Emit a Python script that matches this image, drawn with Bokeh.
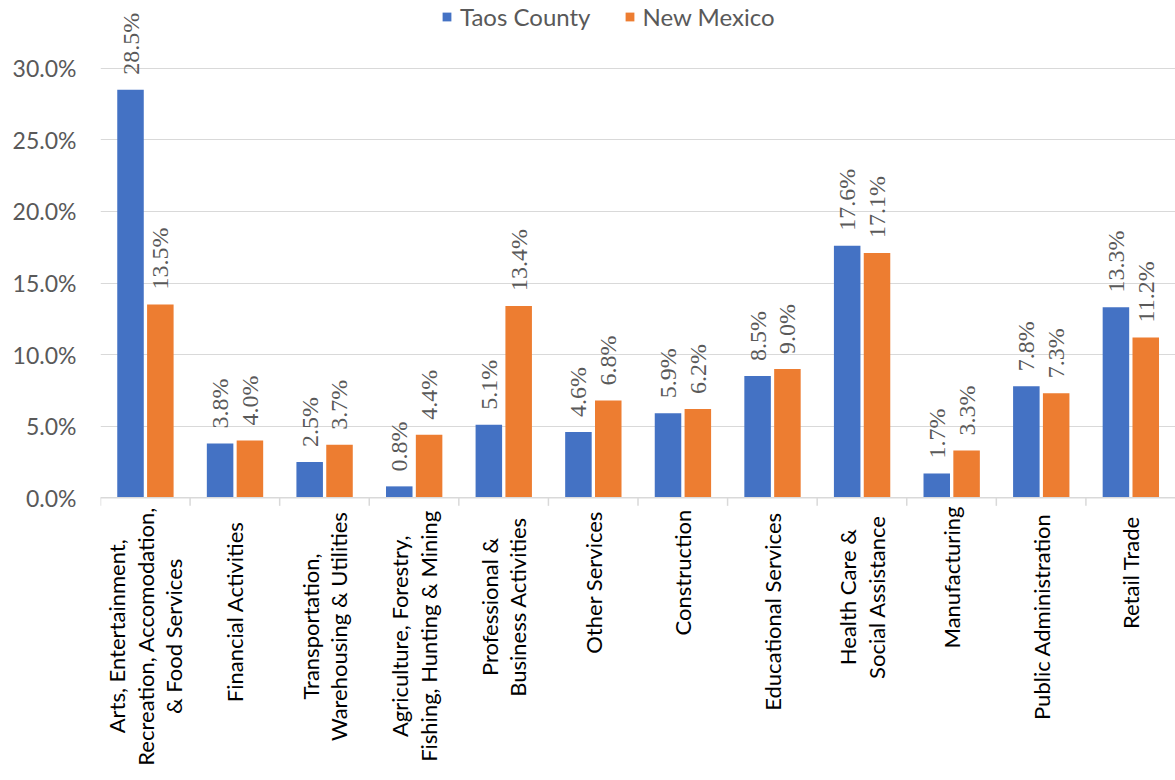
from math import pi
from bokeh.plotting import figure
from bokeh.models import (ColumnDataSource, FactorRange, Range1d, FixedTicker,
                          PrintfTickFormatter, LabelSet, Legend, LegendItem, Span)
from bokeh.core.properties import value
from bokeh.transform import dodge
from bokeh.embed import file_html
from bokeh.resources import INLINE

categories = [
    "Arts, Entertainment,\nRecreation, Accomodation,\n& Food Services",
    "Financial Activities",
    "Transportation,\nWarehousing & Utilities",
    "Agriculture, Forestry,\nFishing, Hunting & Mining",
    "Professional &\nBusiness Activities",
    "Other Services",
    "Construction",
    "Educational Services",
    "Health Care &\nSocial Assistance",
    "Manufacturing",
    "Public Administration",
    "Retail Trade",
]
taos_county = [28.5, 3.8, 2.5, 0.8, 5.1, 4.6, 5.9, 8.5, 17.6, 1.7, 7.8, 13.3]
new_mexico = [13.5, 4.0, 3.7, 4.4, 13.4, 6.8, 6.2, 9.0, 17.1, 3.3, 7.3, 11.2]
y_ticks = [0, 5, 10, 15, 20, 25, 30]
series_names = ["Taos County", "New Mexico"]
colors = ["#4472C4", "#ED7D31"]

FONT = "Lato"
Y0, Y1 = -19.74, 34.73
FRAME_H = 780
px_per_unit = FRAME_H / (Y1 - Y0)

src = ColumnDataSource(dict(
    cats=categories,
    taos=taos_county,
    nm=new_mexico,
    taos_lbl=[f"{v:.1f}%" for v in taos_county],
    nm_lbl=[f"{v:.1f}%" for v in new_mexico],
    zero=[0] * len(categories),
    tick_end=[-8 / px_per_unit] * len(categories),
))

# category label lines (one entry per wrapped line)
line_x, line_y, line_txt = [], [], []
for c in categories:
    parts = c.split("\n")
    n = len(parts)
    longest = max(len(s) for s in parts)
    yc = -(16 + longest * 9.8 / 2) / px_per_unit
    for i, s in enumerate(parts):
        line_x.append((c, (i - (n - 1) / 2) * 0.32))
        line_y.append(yc)
        line_txt.append(s)
lines_src = ColumnDataSource(dict(x=line_x, y=line_y, text=line_txt))

p = figure(width=1175, height=780, output_backend="svg", toolbar_location=None,
           x_range=FactorRange(factors=categories, range_padding=0),
           y_range=Range1d(Y0, Y1),
           min_border_left=100, min_border_right=0, min_border_top=0,
           min_border_bottom=0)
p.outline_line_color = None
p.background_fill_color = "white"
p.border_fill_color = "white"

xr = p.x_range
r1 = p.vbar(x=dodge("cats", -0.165, range=xr), top="taos", width=0.296, source=src,
            fill_color=colors[0], line_color=None)
r2 = p.vbar(x=dodge("cats", 0.168, range=xr), top="nm", width=0.296, source=src,
            fill_color=colors[1], line_color=None)

# axis line and category separators
p.add_layout(Span(location=0, dimension="width", line_color="#d9d9d9", line_width=1.5))
p.segment(x0=dodge("cats", -0.5, range=xr), y0="zero", x1=dodge("cats", -0.5, range=xr),
          y1="tick_end", source=src, line_color="#d9d9d9", line_width=1.5)

# data labels
for col, lbl, off in [("taos", "taos_lbl", -0.165), ("nm", "nm_lbl", 0.168)]:
    p.add_layout(LabelSet(x=dodge("cats", off, range=xr), y=col, text=lbl, source=src,
                          angle=pi / 2, y_offset=15, text_align="left",
                          text_baseline="middle", text_font=FONT,
                          text_font_size="24px", text_color="#595959"))

# category labels
p.text(x="x", y="y", text="text", source=lines_src, angle=pi / 2,
       text_align="center", text_baseline="middle", text_font=value(FONT),
       text_font_size="22px", text_color="#000000")

p.xaxis.visible = False
p.xgrid.visible = False
p.ygrid.grid_line_color = "#d9d9d9"
p.ygrid.ticker = FixedTicker(ticks=y_ticks)
ya = p.yaxis[0]
ya.ticker = FixedTicker(ticks=y_ticks)
ya.formatter = PrintfTickFormatter(format="%.1f%%")
ya.axis_line_color = None
ya.major_tick_line_color = None
ya.minor_tick_line_color = None
ya.major_label_standoff = 18
ya.major_label_text_font = FONT
ya.major_label_text_font_size = "23px"
ya.major_label_text_color = "#595959"

legend = Legend(items=[LegendItem(label=series_names[0], renderers=[r1]),
                       LegendItem(label=series_names[1], renderers=[r2])],
                orientation="horizontal", location=(341, 749),
                border_line_color=None, background_fill_alpha=0,
                label_text_font=FONT, label_text_font_size="24px",
                label_text_color="#595959", glyph_width=11, glyph_height=11,
                spacing=33, padding=2, margin=0, label_standoff=8)
p.add_layout(legend, "center")

open("out.html", "w").write(file_html(p, INLINE))
